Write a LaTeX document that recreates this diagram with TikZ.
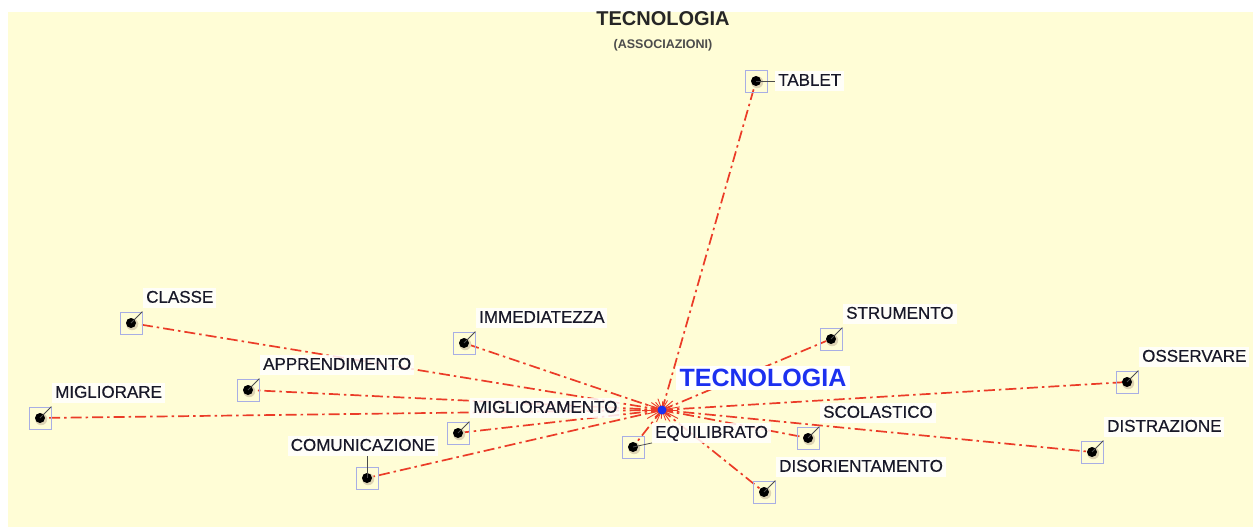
\documentclass[tikz,border=0pt]{standalone}
\usepackage{fontspec}
\setmainfont{Liberation Sans}
\newfontfamily\lblfont[FakeBold=0.5]{Liberation Sans}
\definecolor{bgyellow}{RGB}{255,253,214}
\definecolor{linered}{RGB}{235,60,40}
\definecolor{boxblue}{RGB}{168,174,228}
\definecolor{titleblue}{RGB}{28,48,240}
\definecolor{labeltext}{RGB}{24,24,40}
\definecolor{dotshadow}{RGB}{222,212,180}
\begin{document}
\begin{tikzpicture}[x=1pt,y=-1pt,
  ptbox/.style={draw=boxblue, line width=0.9pt, minimum size=22pt, inner sep=0pt},
  lbl/.style={fill=white, fill opacity=0.85, text opacity=1, text=labeltext,
              font=\lblfont\fontsize{17}{17}\selectfont, inner xsep=3pt, inner ysep=2pt,
              text height=12.5pt, text depth=3pt},
  assoc/.style={draw=linered, line width=1.7pt, dash pattern=on 11pt off 4pt on 2.5pt off 4pt},
  burst/.style={draw=linered, line width=0.9pt},
  leader/.style={draw=black!70, line width=0.8pt}]
\useasboundingbox (0,0) rectangle (1253,527);
\fill[white] (0,0) rectangle (1253,527);
\fill[bgyellow] (8,12) rectangle (1253,527);
% coordinates
\coordinate (c) at (662,410);
\foreach \n/\x/\y in {tablet/756/81, classe/131/323, immed/464/343, strum/831/339,
  appr/248/390, oss/1127/382, miglre/40/418, miglto/458/433, comun/367/478,
  equil/633/447, scol/808/438, distr/1092/452, disor/764/492}
  \coordinate (\n) at (\x,\y);
% connectors
\foreach \n in {tablet,classe,immed,strum,appr,oss,miglre,miglto,comun,equil,scol,distr,disor}
  \draw[assoc] (c) -- (\n);
% starburst
\foreach \a/\l in {0/16,15/12,28/18,40/10,55/14,70/11,95/9,115/13,135/10,150/17,165/15,
  178/20,190/12,200/18,215/13,230/10,250/12,275/9,300/11,320/14,335/12,350/18}
  \draw[burst] (c) -- ++(\a:\l);
\fill[titleblue] (c) circle (4.5);
% boxes and dots
\foreach \n in {tablet,classe,immed,strum,appr,oss,miglre,miglto,comun,equil,scol,distr,disor}{
  \node[ptbox] (\n-box) at (\n) {};
  \fill[dotshadow] (\n) ++(1.2,1.2) circle (6);
  \fill[black] (\n) circle (5);
}
% standard labels
\foreach \n/\t in {classe/CLASSE, immed/IMMEDIATEZZA, strum/STRUMENTO, appr/APPRENDIMENTO,
  oss/OSSERVARE, miglre/MIGLIORARE, miglto/MIGLIORAMENTO, scol/SCOLASTICO,
  distr/DISTRAZIONE, disor/DISORIENTAMENTO}{
  \node[lbl, anchor=west] (\n-lbl) at ([shift={(12,-25)}]\n) {\t};
  \draw[leader] (\n) -- (\n-box.north east);
}
% special labels
\node[lbl, anchor=west] (tablet-lbl) at ([shift={(19,0)}]tablet) {TABLET};
\draw[leader] (tablet) -- (tablet-lbl.west);
\node[lbl, anchor=west] (equil-lbl) at ([shift={(19,-14)}]equil) {EQUILIBRATO};
\draw[leader] (equil) -- (equil-lbl.south west);
\node[lbl, anchor=south] (comun-lbl) at ([shift={(-4,-22)}]comun) {COMUNICAZIONE};
\draw[leader] (comun) -- (comun-lbl.south -| comun);
% centre label
\node[fill=white, text=titleblue, font=\bfseries\fontsize{25}{25}\selectfont,
      inner xsep=4pt, inner ysep=3pt] (centre-lbl) at (763,378) {TECNOLOGIA};
% title
\node[font=\bfseries\fontsize{20}{20}\selectfont, text=black!85] (title) at (663,19) {TECNOLOGIA};
\node[font=\bfseries\fontsize{12.5}{12.5}\selectfont, text=black!70] (subtitle) at (663,45) {(ASSOCIAZIONI)};
\end{tikzpicture}
\end{document}
